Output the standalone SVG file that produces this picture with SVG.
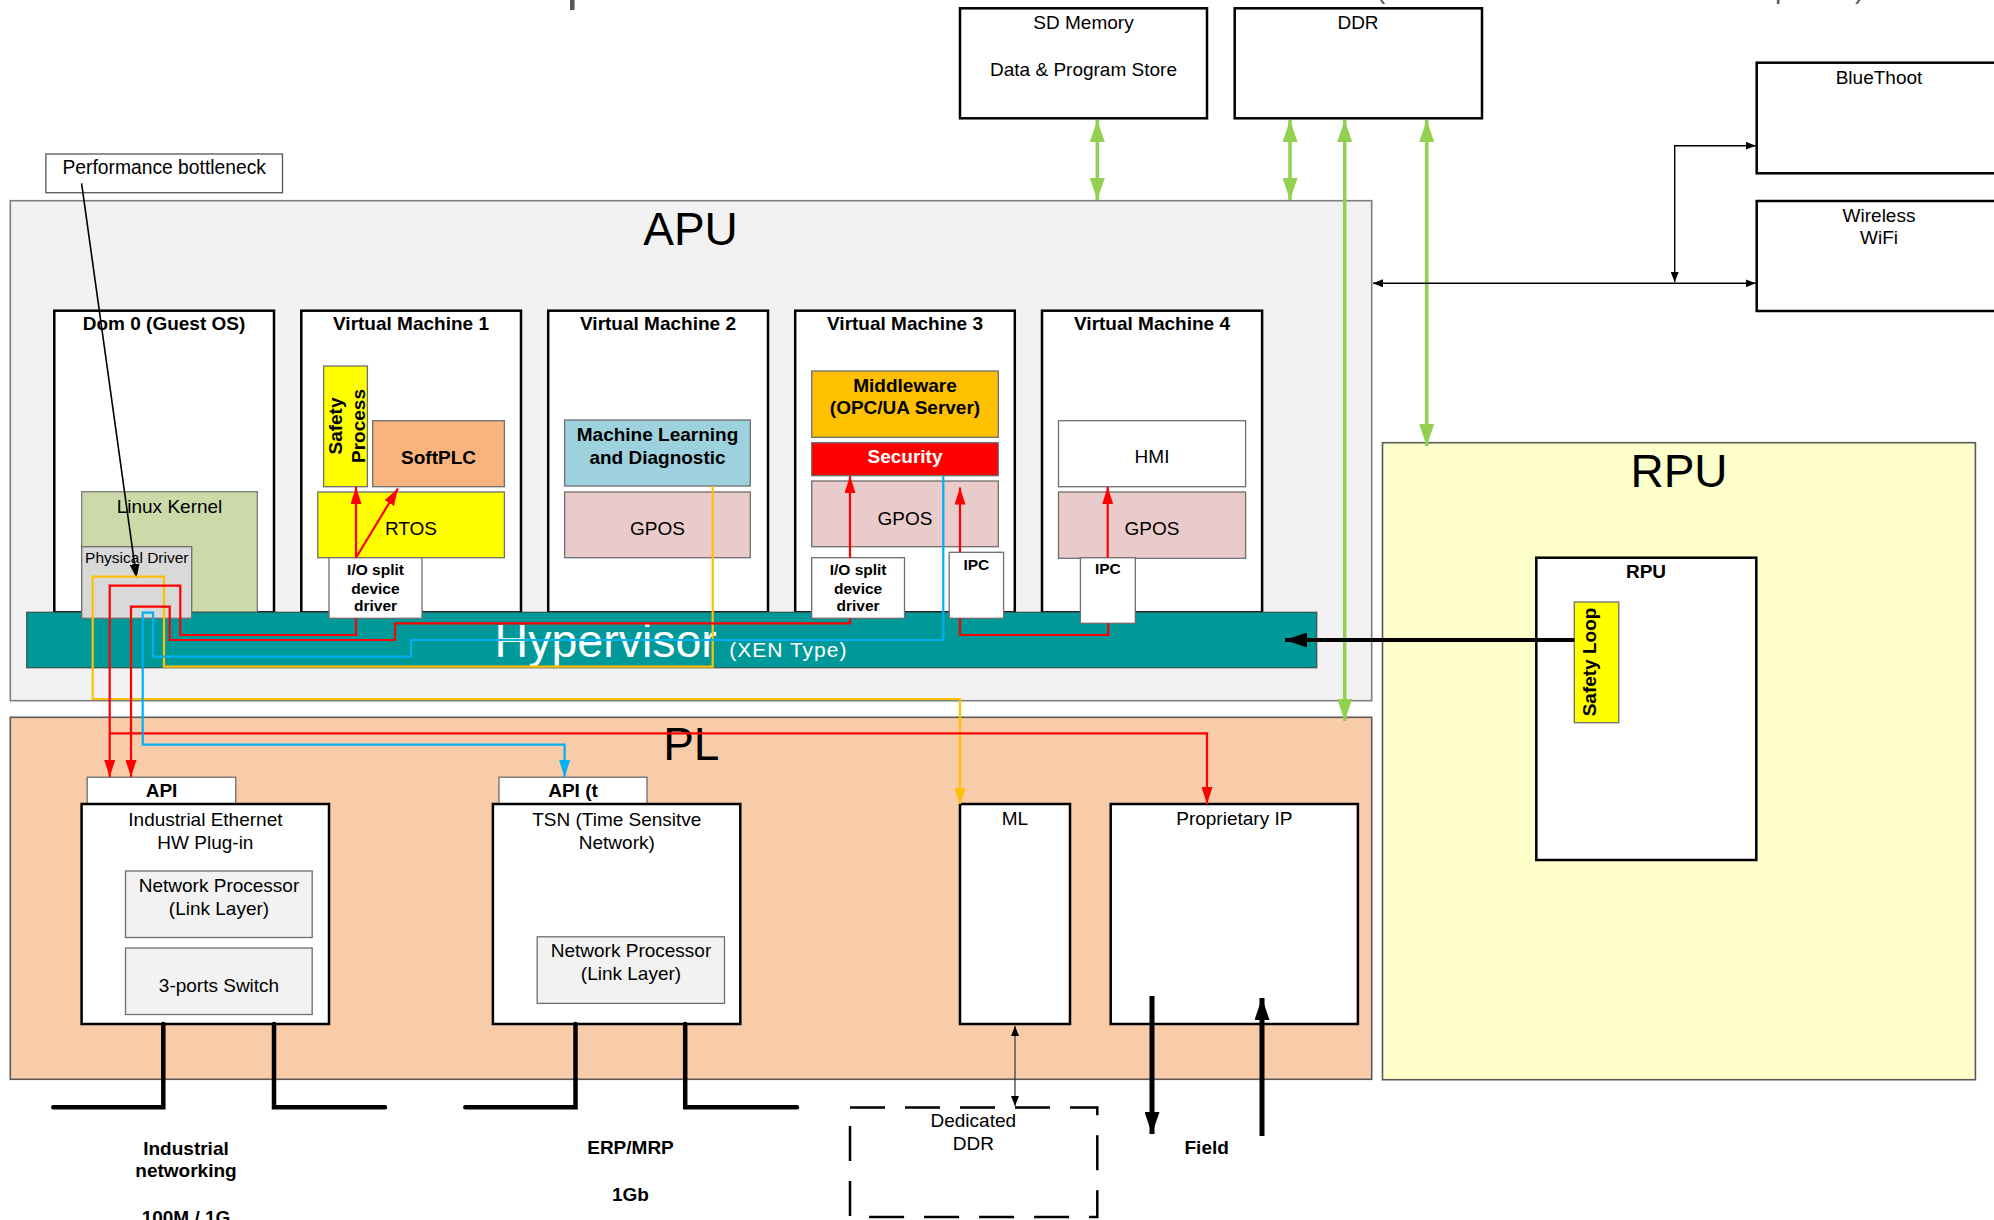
<svg xmlns="http://www.w3.org/2000/svg" width="1994" height="1220" viewBox="0 0 1994 1220">
<style>
text{font-family:"Liberation Sans",Arial,sans-serif;font-size:19px;fill:#000;text-anchor:middle}
.b{font-weight:bold}
.s{font-size:15.5px}
.big{font-size:46px}
.box{fill:#fff;stroke:#000;stroke-width:2.5}
.sub{stroke:#6e6e6e;stroke-width:1.3}
.wire{fill:none;stroke-width:2.2}
.red{stroke:#FF0000}
.blue{stroke:#00B0F0}
.yel{stroke:#FFC000}
.grn{fill:none;stroke:#92D050;stroke-width:3.5}
.thin{fill:none;stroke:#000;stroke-width:1.4}
.net{fill:none;stroke:#000;stroke-width:4.5;stroke-linecap:round}
</style>
<defs>
<marker id="aR" viewBox="0 0 17 11" refX="17" refY="5.5" markerWidth="17" markerHeight="11" markerUnits="userSpaceOnUse" orient="auto"><path d="M0,0 L17,5.5 L0,11 z" fill="#FF0000"/></marker>
<marker id="aB" viewBox="0 0 17 11" refX="17" refY="5.5" markerWidth="17" markerHeight="11" markerUnits="userSpaceOnUse" orient="auto"><path d="M0,0 L17,5.5 L0,11 z" fill="#00B0F0"/></marker>
<marker id="aY" viewBox="0 0 16 11" refX="16" refY="5.5" markerWidth="16" markerHeight="11" markerUnits="userSpaceOnUse" orient="auto"><path d="M0,0 L16,5.5 L0,11 z" fill="#FFC000"/></marker>
<marker id="aG" viewBox="0 0 22 15" refX="22" refY="7.5" markerWidth="22" markerHeight="15" markerUnits="userSpaceOnUse" orient="auto-start-reverse"><path d="M0,0 L22,7.5 L0,15 z" fill="#92D050"/></marker>
<marker id="aK" viewBox="0 0 22 15" refX="22" refY="7.5" markerWidth="22" markerHeight="15" markerUnits="userSpaceOnUse" orient="auto-start-reverse"><path d="M0,0 L22,7.5 L0,15 z" fill="#000"/></marker>
<marker id="aT" viewBox="0 0 10 8" refX="10" refY="4" markerWidth="10" markerHeight="8" markerUnits="userSpaceOnUse" orient="auto-start-reverse"><path d="M0,0 L10,4 L0,8 z" fill="#000"/></marker>
<marker id="aP" viewBox="0 0 14 10" refX="14" refY="5" markerWidth="14" markerHeight="10" markerUnits="userSpaceOnUse" orient="auto"><path d="M0,0 L14,5 L0,10 z" fill="#000"/></marker>
</defs>

<g id="title-fragment" fill="#595959">
<text x="566.6" y="-1" style="font-size:52px;text-anchor:start;fill:#595959">p</text>
<text x="1376" y="-2" style="font-size:28px;text-anchor:start;fill:#595959">(</text>
<text x="1775" y="-2" style="font-size:28px;text-anchor:start;fill:#595959">p</text>
<text x="1855" y="-2" style="font-size:28px;text-anchor:start;fill:#595959">)</text>
</g>

<g id="n-sd"><rect class="box" x="960" y="8.3" width="247" height="110"/><text x="1083.5" y="28.5">SD Memory</text><text x="1083.5" y="75.8">Data &amp; Program Store</text></g>
<g id="n-ddr"><rect class="box" x="1234.7" y="8.3" width="247.3" height="110"/><text x="1358" y="28.5">DDR</text></g>
<g id="n-bt"><rect class="box" x="1756.7" y="62.7" width="260" height="110.6"/><text x="1879" y="83.5">BlueThoot</text></g>
<g id="n-wifi"><rect class="box" x="1756.7" y="201" width="260" height="110"/><text x="1879" y="221.8">Wireless</text><text x="1879" y="244">WiFi</text></g>
<g id="n-perf"><rect x="45.9" y="154" width="236.6" height="38.7" fill="#fff" stroke="#555" stroke-width="1.3"/><text x="164.2" y="173.5" style="font-size:19.3px">Performance bottleneck</text></g>

<g id="n-apu">
<rect x="10.3" y="200.7" width="1361.4" height="500" fill="#F2F2F2" stroke="#7F7F7F" stroke-width="1.6"/>
<text class="big" x="690.5" y="245">APU</text>
</g>
<g id="n-pl">
<rect x="10.3" y="717.3" width="1361.4" height="362" fill="#F8CBA9" stroke="#595959" stroke-width="1.6"/>
<text class="big" x="691.3" y="760">PL</text>
</g>
<g id="n-rpu">
<rect x="1382.5" y="442.7" width="592.9" height="637" fill="#FFFFCC" stroke="#595959" stroke-width="1.6"/>
<text class="big" x="1679" y="486.7">RPU</text>
</g>

<g id="n-dom0">
<rect class="box" x="54.3" y="310.7" width="219.7" height="301.6"/>
<text class="b" x="164" y="330">Dom 0 (Guest OS)</text>
<rect x="81.7" y="491.7" width="175.6" height="120.6" fill="#CCDAAA" stroke="#7a7a7a" stroke-width="1.3"/>
<text x="169.5" y="512.5">Linux Kernel</text>
</g>
<g id="n-vm1">
<rect class="box" x="301.3" y="310.7" width="219.7" height="301.6"/>
<text class="b" x="411" y="330">Virtual Machine 1</text>
<rect class="sub" x="323.6" y="366" width="43.8" height="120.7" fill="#FFFF00"/>
<text class="b" transform="translate(341.5,426) rotate(-90)">Safety</text>
<text class="b" transform="translate(365,426) rotate(-90)">Process</text>
<rect class="sub" x="372.7" y="420.7" width="131.7" height="66" fill="#F8B47C"/>
<text class="b" x="438.5" y="463.5">SoftPLC</text>
<rect class="sub" x="317.8" y="492" width="186.6" height="65.7" fill="#FFFF00"/>
<text x="411" y="535">RTOS</text>
</g>
<g id="n-vm2">
<rect class="box" x="548.2" y="310.7" width="219.8" height="301.6"/>
<text class="b" x="658" y="330">Virtual Machine 2</text>
<rect class="sub" x="564.6" y="420" width="185.7" height="66" fill="#9DD1DE"/>
<text class="b" x="657.5" y="441">Machine Learning</text>
<text class="b" x="657.5" y="463.5">and Diagnostic</text>
<rect class="sub" x="564.6" y="492" width="185.7" height="65.7" fill="#EACBCB"/>
<text x="657.5" y="535">GPOS</text>
</g>
<g id="n-vm3">
<rect class="box" x="795.2" y="310.7" width="219.6" height="301.6"/>
<text class="b" x="905" y="330">Virtual Machine 3</text>
<rect class="sub" x="811.7" y="371" width="186.6" height="66.3" fill="#FFC000"/>
<text class="b" x="905" y="392">Middleware</text>
<text class="b" x="905" y="414">(OPC/UA Server)</text>
<rect class="sub" x="811.7" y="442.7" width="186.6" height="33" fill="#FF0000"/>
<text class="b" x="905" y="462.7" style="fill:#fff">Security</text>
<rect class="sub" x="811.7" y="481" width="186.6" height="65.7" fill="#EACBCB"/>
<text x="905" y="524.7">GPOS</text>
</g>
<g id="n-vm4">
<rect class="box" x="1042" y="310.7" width="220.1" height="301.6"/>
<text class="b" x="1152" y="330">Virtual Machine 4</text>
<rect class="sub" x="1058.5" y="420.7" width="187.1" height="66" fill="#fff"/>
<text x="1152" y="463">HMI</text>
<rect class="sub" x="1058.5" y="492" width="187.1" height="66.3" fill="#EACBCB"/>
<text x="1152" y="535.3">GPOS</text>
</g>

<g id="n-hyp">
<rect x="26.7" y="612.3" width="1290" height="55.4" fill="#009999" stroke="#3a5a5a" stroke-width="1.3"/>
<text x="494.6" y="656.7" style="font-size:46.5px;fill:#fff;text-anchor:start">Hypervisor</text>
<text x="729.3" y="657" style="font-size:21px;letter-spacing:1px;fill:#fff;text-anchor:start">(XEN Type)</text>
</g>
<g id="n-physdrv"><rect class="sub" x="81.7" y="546.7" width="110" height="71.6" fill="#D9D9D9"/><text class="s" x="136.8" y="563">Physical Driver</text></g>
<g id="n-io1"><rect class="sub" x="329" y="557.7" width="93" height="60.6" fill="#fff"/><text class="b s" x="375.5" y="575">I/O split</text><text class="b s" x="375.5" y="594">device</text><text class="b s" x="375.5" y="611">driver</text></g>
<g id="n-io3"><rect class="sub" x="811.7" y="557.7" width="92.8" height="60.6" fill="#fff"/><text class="b s" x="858.1" y="575">I/O split</text><text class="b s" x="858.1" y="594">device</text><text class="b s" x="858.1" y="611">driver</text></g>
<g id="n-ipc3"><rect class="sub" x="949.2" y="552.3" width="54.4" height="66" fill="#fff"/><text class="b s" x="976.4" y="569.5">IPC</text></g>
<g id="n-ipc4"><rect class="sub" x="1080.4" y="557.7" width="54.9" height="65.6" fill="#fff"/><text class="b s" x="1107.9" y="573.8">IPC</text></g>

<g id="n-rpucore">
<rect class="box" x="1536.3" y="557.7" width="220" height="302.3"/>
<text class="b" x="1646" y="578">RPU</text>
<rect class="sub" x="1574.3" y="602" width="44.5" height="120.7" fill="#FFFF00"/>
<text class="b" transform="translate(1595.5,662) rotate(-90)">Safety Loop</text>
</g>

<g id="n-ie">
<rect class="sub" x="87.2" y="777.2" width="148.5" height="26.8" fill="#fff"/>
<text class="b" x="161.5" y="796.5">API</text>
<rect class="box" x="81.6" y="804" width="247.4" height="220"/>
<text x="205.4" y="825.5">Industrial Ethernet</text>
<text x="205.4" y="848.5">HW Plug-in</text>
<rect class="sub" x="125.5" y="871" width="186.7" height="66.5" fill="#F2F2F2"/>
<text x="219" y="892">Network Processor</text>
<text x="219" y="915">(Link Layer)</text>
<rect class="sub" x="125.5" y="948" width="186.7" height="66.5" fill="#F2F2F2"/>
<text x="219" y="991.8">3-ports Switch</text>
</g>
<g id="n-tsn">
<rect class="sub" x="499" y="777.2" width="148" height="26.8" fill="#fff"/>
<text class="b" x="573" y="796.5">API (t</text>
<rect class="box" x="492.9" y="804" width="247.4" height="220"/>
<text x="616.8" y="825.5">TSN (Time Sensitve</text>
<text x="616.8" y="848.5">Network)</text>
<rect class="sub" x="537.2" y="936.8" width="187.3" height="66.6" fill="#F2F2F2"/>
<text x="631" y="956.6">Network Processor</text>
<text x="631" y="980.3">(Link Layer)</text>
</g>
<g id="n-ml"><rect class="box" x="960" y="804" width="110" height="220"/><text x="1015" y="825">ML</text></g>
<g id="n-pip"><rect class="box" x="1110.7" y="804" width="247.2" height="220"/><text x="1234.3" y="825">Proprietary IP</text></g>
<g id="n-dddr"><rect x="850" y="1107.5" width="247.3" height="109.5" fill="none" stroke="#000" stroke-width="2.5" stroke-dasharray="35 20"/><text x="973.3" y="1127">Dedicated</text><text x="973.3" y="1150">DDR</text></g>

<g id="labels">
<text class="b" x="186" y="1155">Industrial</text>
<text class="b" x="186" y="1177">networking</text>
<text class="b" x="186" y="1224">100M / 1G</text>
<text class="b" x="630.5" y="1154">ERP/MRP</text>
<text class="b" x="630.5" y="1201">1Gb</text>
<text class="b" x="1206.7" y="1154">Field</text>
</g>

<g id="connectors">
<path class="grn" d="M1097.3 120 V200" marker-start="url(#aG)" marker-end="url(#aG)"/>
<path class="grn" d="M1290 120 V200" marker-start="url(#aG)" marker-end="url(#aG)"/>
<path class="grn" d="M1344.7 120 V721" marker-start="url(#aG)" marker-end="url(#aG)"/>
<path class="grn" d="M1426.7 120 V446" marker-start="url(#aG)" marker-end="url(#aG)"/>
<path class="thin" d="M1373 283.3 H1755.7" marker-start="url(#aT)" marker-end="url(#aT)"/>
<path class="thin" d="M1755.7 145.7 H1674.7 V282" marker-start="url(#aT)" marker-end="url(#aT)"/>
<path fill="none" stroke="#000" stroke-width="1.6" d="M81.6 183.3 L136.5 578" marker-end="url(#aP)"/>
<path fill="none" stroke="#000" stroke-width="4" d="M1574.3 640 H1285" marker-end="url(#aK)"/>
<path class="wire yel" d="M712.7 486 V666.7 H164 V576.7 H92.7 V699 H960 V804" marker-end="url(#aY)"/>
<path class="wire red" d="M356 618.3 V635 H180.3 V585.7 H109.7 V777" marker-end="url(#aR)"/>
<path class="wire red" d="M109.7 733.3 H1207 V804" marker-end="url(#aR)"/>
<path class="wire red" d="M850 618.3 V623.3 H395 V640 H169.7 V606.7 H131 V777" marker-end="url(#aR)"/>
<path class="wire red" d="M960 618.3 V635 H1108.3 V623.3"/>
<path class="wire blue" d="M943.3 475.7 V640 H411 V656.7 H153 V612.7 H142.7 V744.7 H564.6 V777" marker-end="url(#aB)"/>
<path class="wire red" d="M356 557.7 V487" marker-end="url(#aR)"/>
<path class="wire red" d="M356 557.7 L398 488.5" marker-end="url(#aR)"/>
<path class="wire red" d="M850 557.7 V476" marker-end="url(#aR)"/>
<path class="wire red" d="M960 552.3 V487.5" marker-end="url(#aR)"/>
<path class="wire red" d="M1107.7 557.7 V487" marker-end="url(#aR)"/>
<path class="net" d="M163.3 1024 V1107.3 H53.3"/>
<path class="net" d="M274 1024 V1107.3 H385"/>
<path class="net" d="M575.5 1024 V1107.3 H465.3"/>
<path class="net" d="M685.2 1024 V1107.3 H797"/>
<path fill="none" stroke="#000" stroke-width="5" d="M1152 996 V1134" marker-end="url(#aK)"/>
<path fill="none" stroke="#000" stroke-width="5" d="M1262 1136 V998" marker-end="url(#aK)"/>
<path fill="none" stroke="#333" stroke-width="1.2" d="M1015 1026 V1106" marker-start="url(#aT)" marker-end="url(#aT)"/>
</g>
</svg>
